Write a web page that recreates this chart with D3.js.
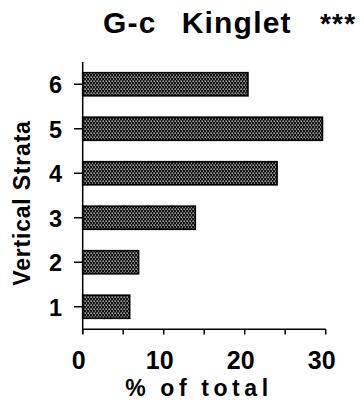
<!DOCTYPE html>
<html>
<head>
<meta charset="utf-8">
<script src="https://cdn.jsdelivr.net/npm/d3@7/dist/d3.min.js"></script>
<style>
  html, body { margin: 0; padding: 0; background: #fff; }
  svg { display: block; }
  text { font-family: "Liberation Sans", Arial, Helvetica, sans-serif; font-weight: bold; fill: #000; }
</style>
</head>
<body>
<script>
// Share of observations by vertical stratum
const strata = ["1", "2", "3", "4", "5", "6"];
const percents = [5.8, 6.9, 13.9, 24.0, 29.6, 20.4];
const xTicks = [0, 10, 20, 30];
const xMinorTicks = [0, 5, 10, 15, 20, 25, 30];
const titleParts = ["G-c", "Kinglet", "***"];

const W = 363, H = 410;
const svg = d3.select("body").append("svg").attr("width", W).attr("height", H);

// Stipple fill: pale dots on a black ground
const defs = svg.append("defs");
const pat = defs.append("pattern")
  .attr("id", "stipple").attr("patternUnits", "userSpaceOnUse")
  .attr("width", 3).attr("height", 4);
pat.append("rect").attr("width", 3).attr("height", 4).attr("fill", "#111");
pat.append("rect").attr("x", 0.5).attr("y", 0.5).attr("width", 1.3).attr("height", 1.3).attr("fill", "#eee");
pat.append("rect").attr("x", 2).attr("y", 2.5).attr("width", 1.2).attr("height", 1.2).attr("fill", "#c4c4c4");

const x = d3.scaleLinear().domain([0, 30]).range([82.7, 325.7]);
const y = d3.scaleBand().domain(strata.slice().reverse()).range([62, 329])
  .paddingInner(0.48).paddingOuter(0.24);

// Bars
svg.append("g").selectAll("rect")
  .data(strata.map((s, i) => ({ s, v: percents[i] })))
  .join("rect")
  .attr("x", x(0))
  .attr("y", d => y(d.s))
  .attr("width", d => x(d.v) - x(0))
  .attr("height", y.bandwidth())
  .attr("fill", "url(#stipple)")
  .attr("stroke", "#000")
  .attr("stroke-width", 1.6);

// Axis lines
const axisG = svg.append("g").attr("stroke", "#000").attr("stroke-width", 1.5).attr("fill", "none");
axisG.append("line").attr("x1", x(0)).attr("x2", x(0)).attr("y1", 62).attr("y2", 334);
axisG.append("line").attr("x1", x(0)).attr("x2", x(30)).attr("y1", 329.3).attr("y2", 329.3);

// X ticks
axisG.selectAll(".xt").data(xMinorTicks).join("line")
  .attr("x1", d => x(d)).attr("x2", d => x(d))
  .attr("y1", 329.3).attr("y2", 334.5);

// Y ticks
axisG.selectAll(".yt").data(strata).join("line")
  .attr("x1", 74).attr("x2", x(0))
  .attr("y1", d => y(d) + y.bandwidth() / 2).attr("y2", d => y(d) + y.bandwidth() / 2);

// X tick labels
svg.append("g").selectAll("text").data(xTicks).join("text")
  .attr("x", d => x(d) - 4).attr("y", 368.5)
  .attr("text-anchor", "middle").attr("font-size", 25)
  .text(d => d);

// Y tick labels
svg.append("g").selectAll("text").data(strata).join("text")
  .attr("x", 62).attr("y", d => y(d) + y.bandwidth() / 2)
  .attr("dy", "0.38em")
  .attr("text-anchor", "end").attr("font-size", 23.5)
  .text(d => d);

// Axis titles
svg.append("text")
  .attr("x", 199).attr("y", 395.5)
  .attr("text-anchor", "middle").attr("font-size", 23)
  .attr("letter-spacing", 4.6).attr("word-spacing", -1)
  .text("% of total");

svg.append("text")
  .attr("transform", "translate(30,203) rotate(-90)")
  .attr("text-anchor", "middle").attr("font-size", 23)
  .attr("letter-spacing", 0.8)
  .text("Vertical Strata");

// Title
const titleX = [103, 181.7, 320];
svg.append("g").selectAll("text").data(titleParts).join("text")
  .attr("x", (d, i) => titleX[i]).attr("y", 33.3)
  .attr("font-size", (d, i) => i === 2 ? 28 : 30)
  .attr("letter-spacing", 1.2)
  .text(d => d);
</script>
</body>
</html>
